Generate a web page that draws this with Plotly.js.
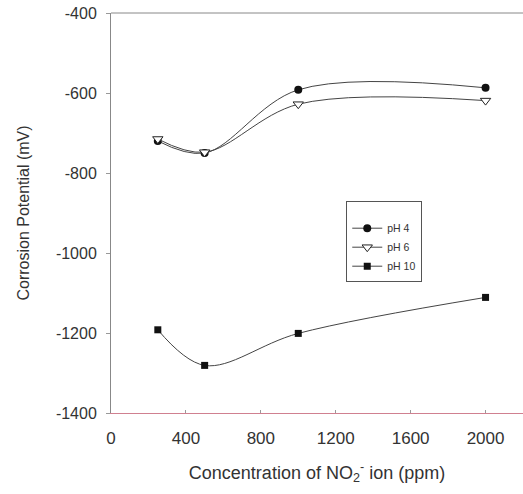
<!DOCTYPE html>
<html><head><meta charset="utf-8">
<script src="https://cdn.plot.ly/plotly-3.0.1.min.js"></script>
<style>body{margin:0;background:#fff}#c{width:523px;height:494px}</style>
</head><body><div id="c"></div>
<script>
const conc = [250, 500, 1000, 2000];
const pH4 = [-720, -750, -592, -587];
const pH6 = [-715, -748, -628, -619];
const pH10 = [-1192, -1281, -1201, -1111];
const names = ['pH 4', 'pH 6', 'pH 10'];
const xTicks = [0, 400, 800, 1200, 1600, 2000];
const yTicks = [-1400, -1200, -1000, -800, -600, -400];

const lineStyle = {color: '#444', width: 1, shape: 'spline', smoothing: 1};
const traces = [
  {x: conc, y: pH4, name: names[0], mode: 'lines+markers', line: lineStyle,
   marker: {symbol: 'circle', size: 8, color: '#111'}},
  {x: conc, y: pH6, name: names[1], mode: 'lines+markers', line: lineStyle,
   marker: {symbol: 'triangle-down', size: 9, color: '#fff', line: {color: '#222', width: 1}}},
  {x: conc, y: pH10, name: names[2], mode: 'lines+markers', line: lineStyle,
   marker: {symbol: 'square', size: 7, color: '#111'}}
];
const layout = {
  width: 523, height: 494,
  margin: {l: 111, r: 0, t: 13, b: 81},
  paper_bgcolor: '#fff', plot_bgcolor: '#fff',
  font: {family: 'Liberation Sans, Arial, sans-serif', color: '#333', size: 14},
  showlegend: true,
  legend: {x: 0.571, y: 0.53, xanchor: 'left', yanchor: 'top',
    bordercolor: '#555', borderwidth: 1, bgcolor: '#fff',
    title: {text: ' ', font: {size: 9}},
    font: {size: 10.5, color: '#333'}, itemwidth: 30, tracegroupgap: 0},
  xaxis: {range: [0, 2200], tickvals: xTicks, ticktext: xTicks.map(String),
    showgrid: false, zeroline: false, showline: true, linecolor: '#d08090', linewidth: 1,
    ticks: 'inside', ticklen: 3, tickcolor: '#999', ticklabelstandoff: 10,
    tickfont: {size: 17, color: '#333'},
    title: {text: 'Concentration of NO<sub>2</sub><sup>-</sup> ion (ppm)', font: {size: 18, color: '#333'}, standoff: 18}},
  yaxis: {range: [-1400, -400], tickvals: yTicks, ticktext: yTicks.map(String),
    showgrid: false, zeroline: false, showline: true, linecolor: '#888', linewidth: 1,
    ticks: 'outside', ticklen: 4, tickcolor: '#999', ticklabelstandoff: 6,
    tickfont: {size: 16, color: '#333'},
    title: {text: 'Corrosion Potential (mV)', font: {size: 16, color: '#333'}, standoff: 22}},
  shapes: [{type: 'line', xref: 'paper', yref: 'paper', x0: 0, x1: 1, y0: 1, y1: 1,
    line: {color: '#888', width: 1}}]
};
Plotly.newPlot('c', traces, layout, {displayModeBar: false, staticPlot: true});
</script></body></html>
